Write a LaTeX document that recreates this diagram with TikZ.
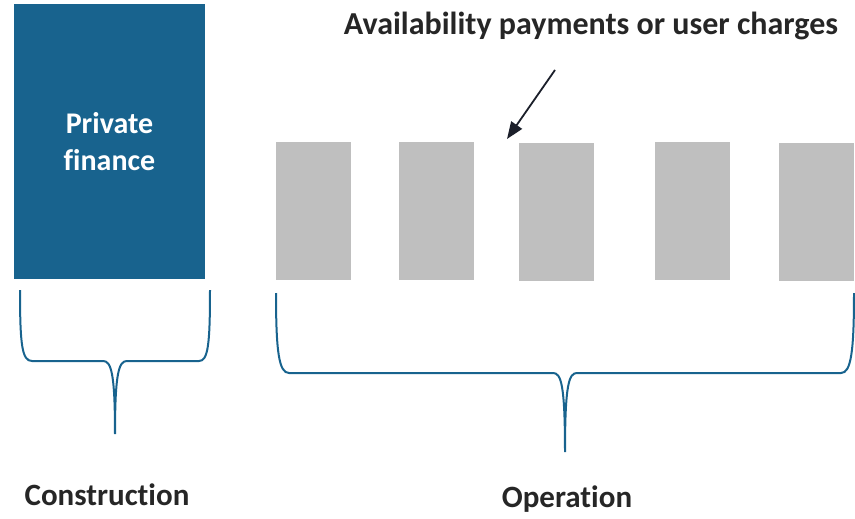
\documentclass[tikz,border=0pt]{standalone}
\usepackage{fontspec}
\setmainfont[Ligatures={NoCommon}]{Carlito}
\usetikzlibrary{positioning,arrows.meta}
\definecolor{pfblue}{RGB}{24,99,142}
\definecolor{paygrey}{RGB}{191,191,191}
\definecolor{labeltext}{RGB}{38,38,38}
\definecolor{pointerink}{RGB}{27,31,42}

\begin{document}
\begin{tikzpicture}[
    x=1pt, y=-1pt,
    phase/.style={rectangle, inner sep=0pt, outer sep=0pt, anchor=north west},
    payment/.style={phase, fill=paygrey, minimum width=75pt, minimum height=138pt},
    bracket/.style={draw=pfblue, line width=2pt},
    caption/.style={font=\fontsize{31}{37}\selectfont\bfseries, text=labeltext, inner sep=0pt, anchor=base},
    pointer/.style={-{Triangle[length=17pt, width=13pt]}, line width=1.8pt, draw=pointerink, fill=pointerink}
]
    \useasboundingbox (0,0) rectangle (855,519);

    % Construction phase (left)
    \node[phase, fill=pfblue, minimum width=191pt, minimum height=275pt,
          text=white, align=center, font=\fontsize{30}{37}\selectfont\bfseries]
          (finance) at (14,4) {Private\\finance};

    % Payments during operation
    \foreach \px/\py [count=\i] in {276/142, 399/142, 519/143, 655/142, 779/143}
        \node[payment] (pay\i) at (\px,\py) {};

    % Header and arrow
    \node[caption, font=\fontsize{32}{38}\selectfont\bfseries] (payhead) at (591,35)
          {Availability payments or user charges};
    \coordinate (pointtail) at (555,70);
    \coordinate (pointtip) at (507,139);
    \draw[pointer] (pointtail) -- (pointtip);

    % Braces
    \draw[bracket] (20,290) .. controls (20,345) and (22,361) .. (32,361) -- (103,361)
        .. controls (111,361) and (115,372) .. (115,434)
        .. controls (115,372) and (119,361) .. (127,361) -- (199,361)
        .. controls (208,361) and (210,345) .. (210,290);
    \draw[bracket] (276,293) .. controls (276,352) and (279,373) .. (289,373) -- (553,373)
        .. controls (561,373) and (565,384) .. (565,452)
        .. controls (565,384) and (569,373) .. (577,373) -- (841,373)
        .. controls (851,373) and (854,352) .. (854,293);

    % Phase labels
    \node[caption] (construction) at (107,505) {Construction};
    \node[caption] (operation) at (567,507) {Operation};
\end{tikzpicture}
\end{document}
